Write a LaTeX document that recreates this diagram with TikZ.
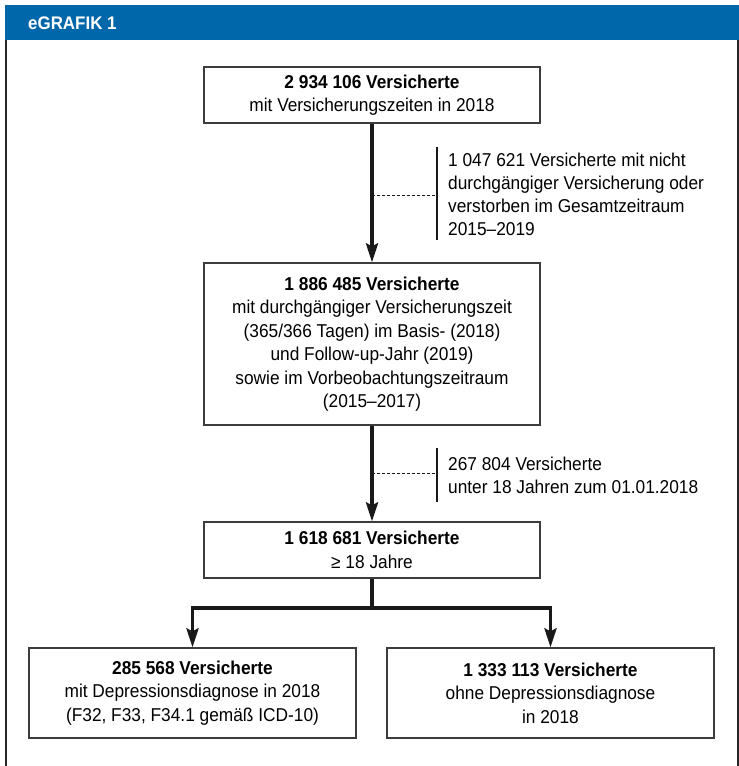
\documentclass[tikz,border=0pt]{standalone}
\usepackage{fontspec}
\setmainfont{Liberation Sans}[FakeStretch=0.93]
\usetikzlibrary{arrows.meta}
\definecolor{headblue}{RGB}{0,103,170}
\definecolor{boxline}{RGB}{60,60,60}
\tikzset{
  box/.style={draw=boxline, line width=1.3pt, fill=white, align=center, inner sep=0pt,
    font=\fontsize{18.6}{23.5}\selectfont},
  note/.style={align=left, anchor=west, inner sep=0pt, font=\fontsize{18.6}{23.2}\selectfont},
  conn/.style={line width=3.6pt, draw=black!90},
  arr/.style={conn, -{Stealth[length=19pt,width=12pt,inset=3pt]}},
  bracket/.style={line width=2pt, draw=black!90},
  dashline/.style={line width=0.9pt, dash pattern=on 3pt off 2pt, draw=black!90}
}
\begin{document}
\begin{tikzpicture}[x=1pt,y=-1pt]
\useasboundingbox (0,0) rectangle (739,766);
% header and frame
\fill[headblue] (5,5) rectangle (739,40);
\node[anchor=base west, inner sep=0pt, text=white, font=\fontsize{18.2}{20}\bfseries\selectfont] (title) at (28,29) {eGRAFIK 1};
\draw[line width=2pt, draw=black!85] (6,40) -- (6,766);
\draw[line width=2pt, draw=black!85] (738,40) -- (738,766);

% boxes
\node[box, minimum width=336pt, minimum height=56pt] (b1) at (372,95)
  {\textbf{2 934 106 Versicherte}\\mit Versicherungszeiten in 2018};
\node[box, minimum width=336pt, minimum height=162pt] (b2) at (372,344)
  {\fontsize{18.6}{24.4}\selectfont\textbf{1 886 485 Versicherte}\\mit durchgängiger Versicherungszeit\\(365/366 Tagen) im Basis- (2018)\\und Follow-up-Jahr (2019)\\sowie im Vorbeobachtungszeitraum\\(2015–2017)};
\node[box, minimum width=336pt, minimum height=56pt] (b3) at (372,550)
  {\textbf{1 618 681 Versicherte}\\≥ 18 Jahre};
\node[box, minimum width=327pt, minimum height=90pt] (b4) at (192.5,693)
  {\fontsize{18.6}{22}\selectfont\textbf{285 568 Versicherte}\\mit Depressionsdiagnose in 2018\\(F32, F33, F34.1 gemäß ICD-10)};
\node[box, minimum width=327pt, minimum height=90pt] (b5) at (550.5,693)
  {\fontsize{18.6}{22}\selectfont\textbf{1 333 113 Versicherte}\\ohne Depressionsdiagnose\\in 2018};

% notes
\node[note] (n1) at (448,194.5)
  {1 047 621 Versicherte mit nicht\\durchgängiger Versicherung oder\\verstorben im Gesamtzeitraum\\2015–2019};
\node[note] (n2) at (448,475)
  {267 804 Versicherte\\unter 18 Jahren zum 01.01.2018};

% main connectors
\draw[arr] (b1.south) -- (b2.north);
\draw[arr] (b2.south) -- (b3.north);
\coordinate (j) at (372,608);
\draw[conn] (b3.south) -- (j);
\draw[arr] (j) -| (b4.north);
\draw[arr] (j) -| (b5.north);

% exclusion brackets and dashed lines
\coordinate (k1t) at (437,147);
\coordinate (k1b) at (437,240);
\coordinate (d1a) at (372,195);
\coordinate (d1b) at (437,195);
\draw[bracket] (k1t) -- (k1b);
\draw[dashline] (d1a) -- (d1b);
\coordinate (k2t) at (437,448);
\coordinate (k2b) at (437,502);
\coordinate (d2a) at (372,473);
\coordinate (d2b) at (437,473);
\draw[bracket] (k2t) -- (k2b);
\draw[dashline] (d2a) -- (d2b);
\end{tikzpicture}
\end{document}
